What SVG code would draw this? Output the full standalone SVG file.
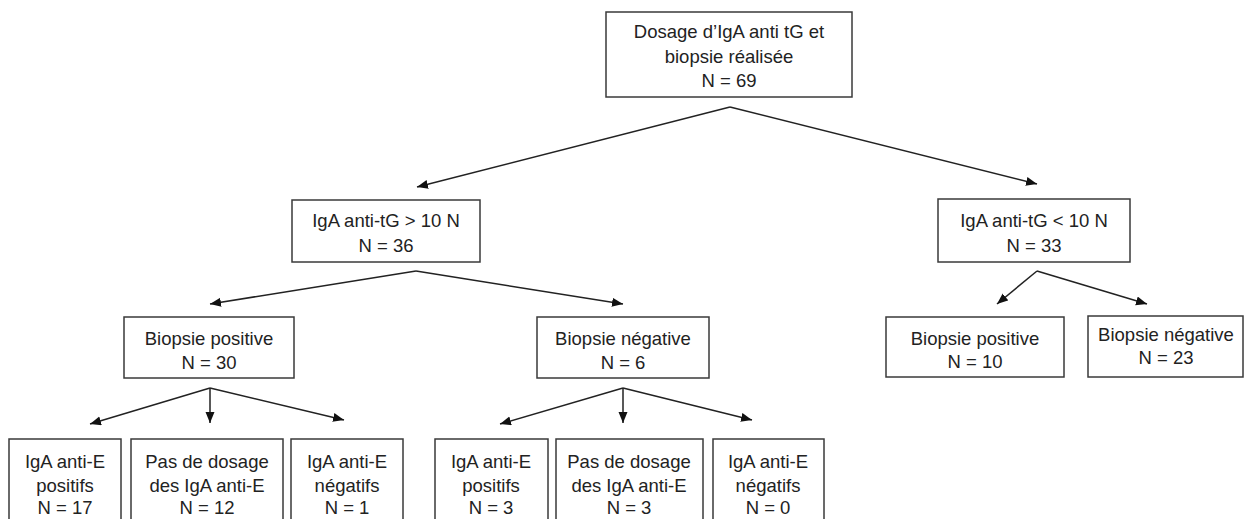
<svg xmlns="http://www.w3.org/2000/svg" width="1245" height="519" viewBox="0 0 1245 519">
<style>
.box{fill:#fff;stroke:#3a3a3a;stroke-width:1.5}
.t{font-family:"Liberation Sans",Arial,sans-serif;font-size:18.5px;fill:#222;text-anchor:middle}
.c{stroke:#222;stroke-width:1.5;fill:none;marker-end:url(#ah)}
</style>
<defs>
<marker id="ah" markerUnits="userSpaceOnUse" markerWidth="12" markerHeight="10" refX="11" refY="4.5" orient="auto">
<path d="M0,0 L11,4.5 L0,9 Z" fill="#111"/>
</marker>
</defs>
<rect width="1245" height="519" fill="#fff"/>
<g id="connectors">
<line class="c" x1="730" y1="107" x2="417" y2="187"/>
<line class="c" x1="730" y1="107" x2="1037" y2="184"/>
<line class="c" x1="416" y1="271" x2="210" y2="304"/>
<line class="c" x1="416" y1="271" x2="623" y2="304"/>
<line class="c" x1="1037" y1="271" x2="997" y2="304"/>
<line class="c" x1="1037" y1="271" x2="1147" y2="304"/>
<line class="c" x1="210" y1="388" x2="90" y2="424"/>
<line class="c" x1="210" y1="388" x2="210" y2="423"/>
<line class="c" x1="210" y1="388" x2="344" y2="420"/>
<line class="c" x1="623" y1="388" x2="500" y2="424"/>
<line class="c" x1="623" y1="388" x2="623" y2="423"/>
<line class="c" x1="623" y1="388" x2="752" y2="420"/>
</g>
<g id="n_top"><rect class="box" x="606" y="12" width="246" height="85"/>
<text class="t" x="729" y="38">Dosage d’IgA anti tG et</text>
<text class="t" x="729" y="63">biopsie réalisée</text>
<text class="t" x="729" y="87">N = 69</text></g>
<g id="n_sup10"><rect class="box" x="292" y="200" width="188" height="62"/>
<text class="t" x="386" y="227">IgA anti-tG &gt; 10 N</text>
<text class="t" x="386" y="252">N = 36</text></g>
<g id="n_inf10"><rect class="box" x="938" y="199" width="192" height="63"/>
<text class="t" x="1034" y="227">IgA anti-tG &lt; 10 N</text>
<text class="t" x="1034" y="252">N = 33</text></g>
<g id="n_bpos1"><rect class="box" x="124" y="317" width="170" height="61"/>
<text class="t" x="209" y="345">Biopsie positive</text>
<text class="t" x="209" y="369">N = 30</text></g>
<g id="n_bneg1"><rect class="box" x="537" y="317" width="172" height="61"/>
<text class="t" x="623" y="345">Biopsie négative</text>
<text class="t" x="623" y="369">N = 6</text></g>
<g id="n_bpos2"><rect class="box" x="886" y="317" width="178" height="60"/>
<text class="t" x="975" y="345">Biopsie positive</text>
<text class="t" x="975" y="368">N = 10</text></g>
<g id="n_bneg2"><rect class="box" x="1088" y="316" width="155" height="61"/>
<text class="t" x="1166" y="341">Biopsie négative</text>
<text class="t" x="1166" y="364">N = 23</text></g>
<g id="n_e1"><rect class="box" x="9" y="439" width="112" height="90"/>
<text class="t" x="65" y="468">IgA anti-E</text>
<text class="t" x="65" y="492">positifs</text>
<text class="t" x="65" y="514">N = 17</text></g>
<g id="n_e2"><rect class="box" x="131" y="439" width="152" height="90"/>
<text class="t" x="207" y="468">Pas de dosage</text>
<text class="t" x="207" y="492">des IgA anti-E</text>
<text class="t" x="207" y="514">N = 12</text></g>
<g id="n_e3"><rect class="box" x="291" y="439" width="112" height="90"/>
<text class="t" x="347" y="468">IgA anti-E</text>
<text class="t" x="347" y="492">négatifs</text>
<text class="t" x="347" y="514">N = 1</text></g>
<g id="n_e4"><rect class="box" x="435" y="439" width="113" height="90"/>
<text class="t" x="491" y="468">IgA anti-E</text>
<text class="t" x="491" y="492">positifs</text>
<text class="t" x="491" y="514">N = 3</text></g>
<g id="n_e5"><rect class="box" x="556" y="439" width="147" height="90"/>
<text class="t" x="629" y="468">Pas de dosage</text>
<text class="t" x="629" y="492">des IgA anti-E</text>
<text class="t" x="629" y="514">N = 3</text></g>
<g id="n_e6"><rect class="box" x="713" y="439" width="111" height="90"/>
<text class="t" x="768" y="468">IgA anti-E</text>
<text class="t" x="768" y="492">négatifs</text>
<text class="t" x="768" y="514">N = 0</text></g>
</svg>
